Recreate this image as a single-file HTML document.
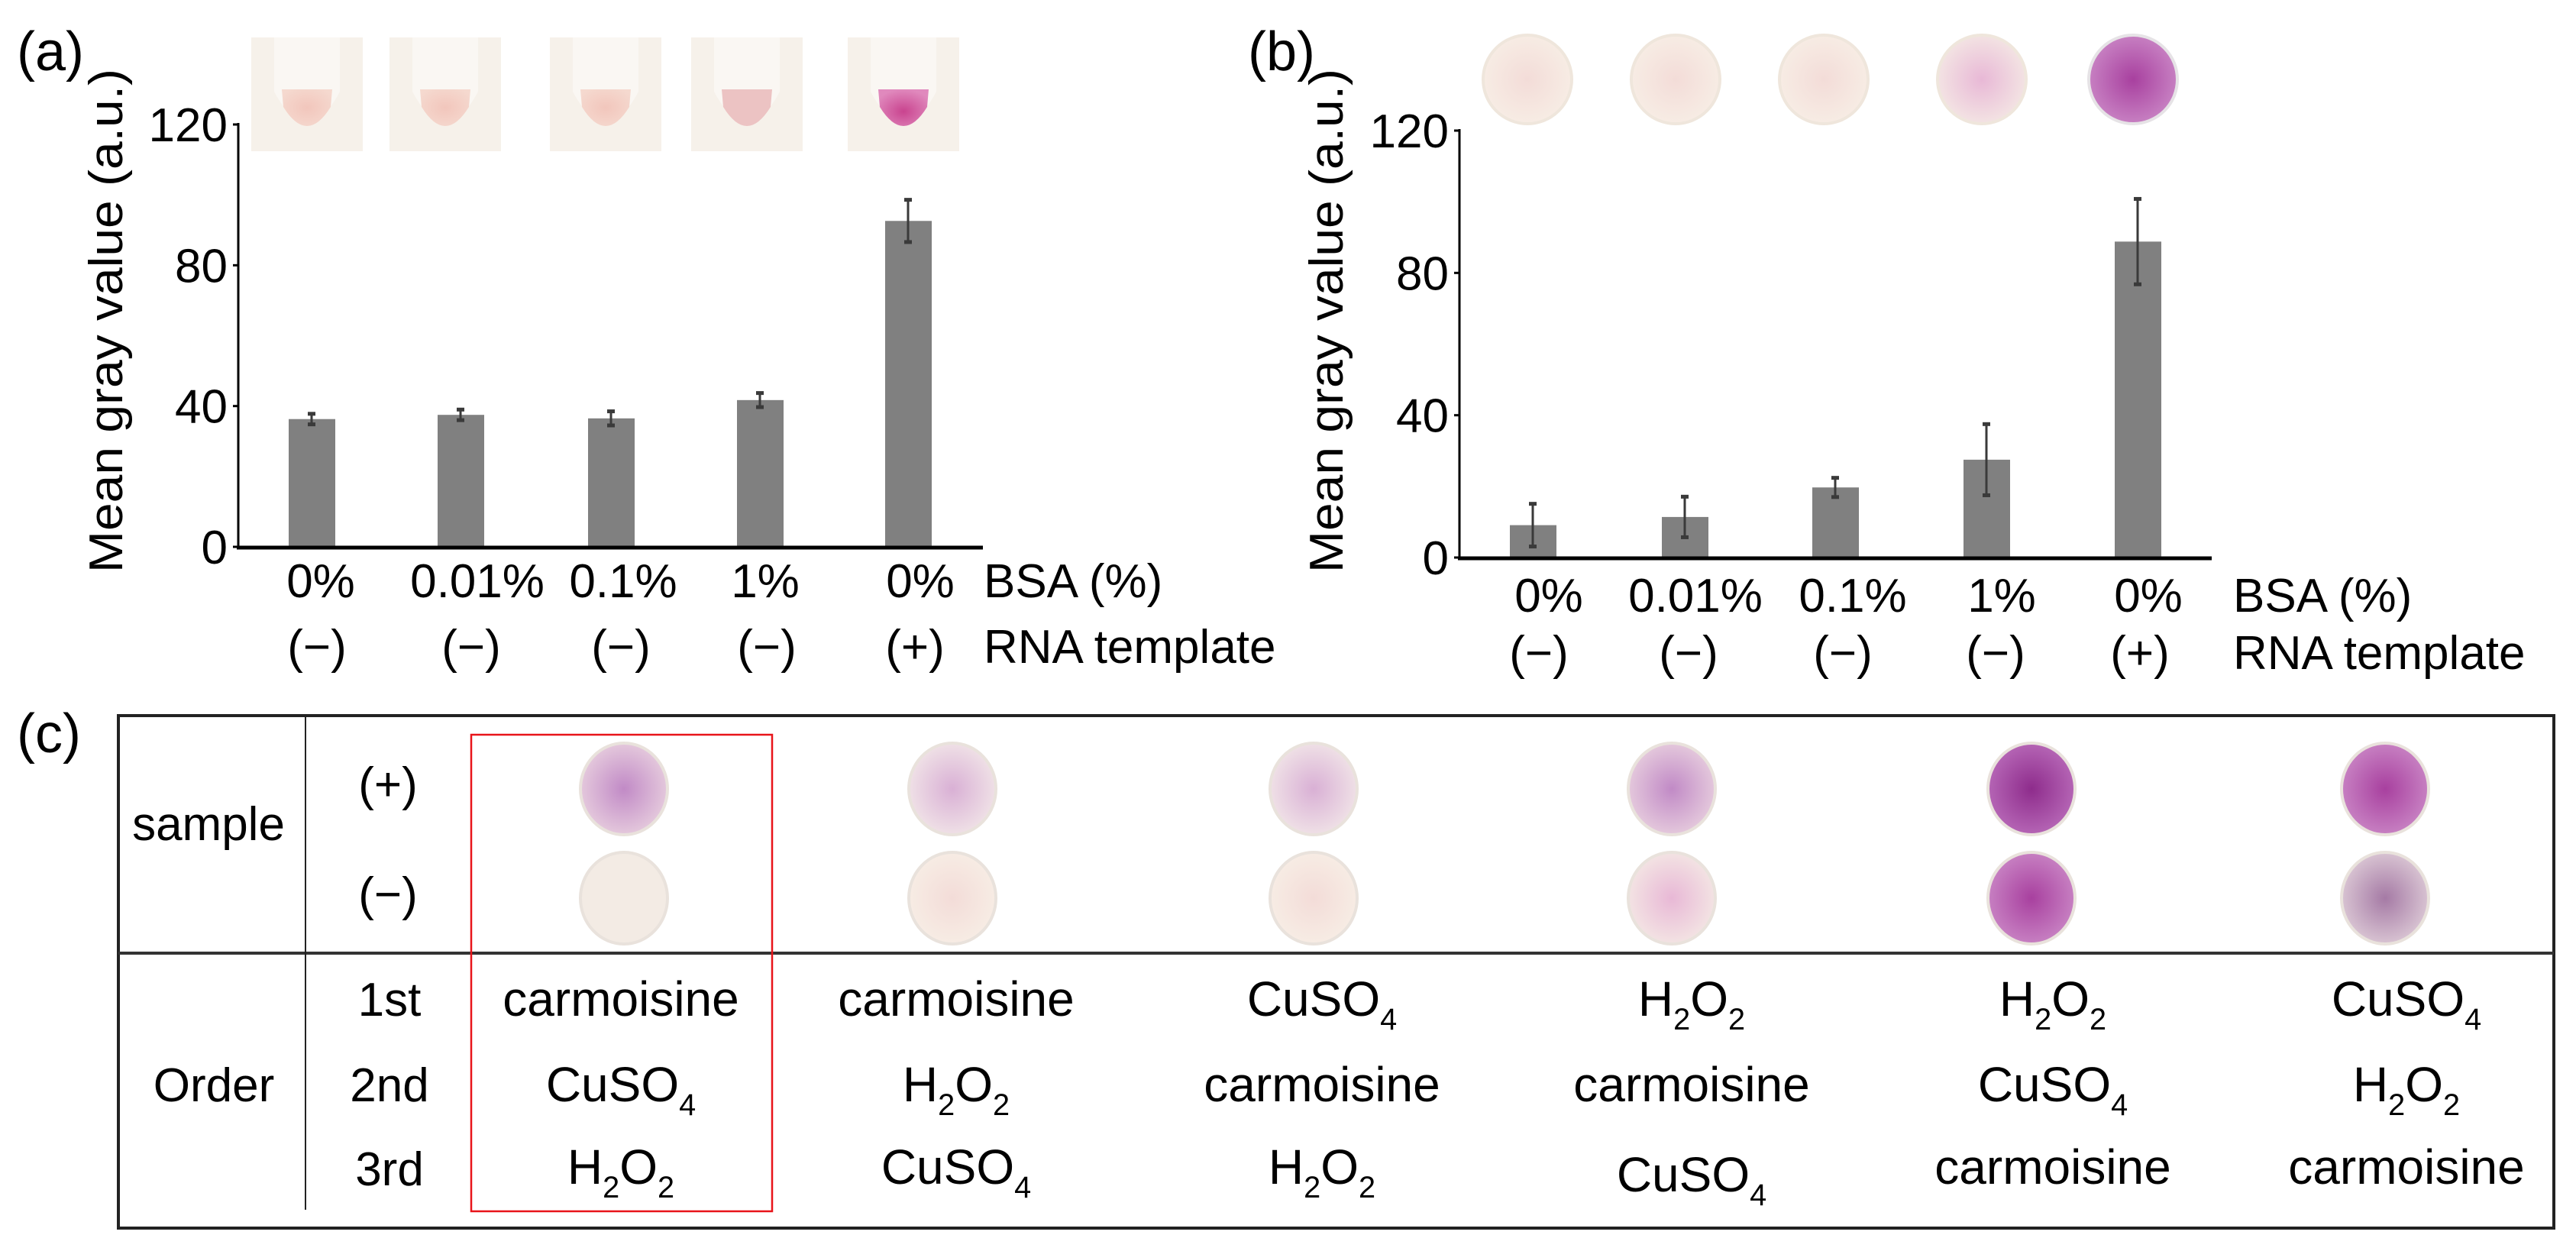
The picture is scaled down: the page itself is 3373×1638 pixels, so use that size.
<!DOCTYPE html>
<html><head><meta charset="utf-8"><style>
html,body{margin:0;padding:0;background:#fff;}
svg{display:block;font-family:"Liberation Sans",Arial,sans-serif;}
</style></head><body>
<svg id="fig" width="3373" height="1638" viewBox="0 0 3373 1638" xmlns="http://www.w3.org/2000/svg">
<defs>
<radialGradient id="liqLight" cx="0.5" cy="0.5" r="0.6"><stop offset="0" stop-color="#f2c6bc"/><stop offset="1" stop-color="#f5d9cf"/></radialGradient>
<radialGradient id="liqPink" cx="0.5" cy="0.6" r="0.6"><stop offset="0" stop-color="#c9448f"/><stop offset="1" stop-color="#e089bd"/></radialGradient>
<radialGradient id="diskPale" cx="0.5" cy="0.5" r="0.5"><stop offset="0" stop-color="#f3dcd8"/><stop offset="1" stop-color="#f7ece4"/></radialGradient>
<radialGradient id="diskPinkish" cx="0.5" cy="0.5" r="0.5"><stop offset="0" stop-color="#e8b8d6"/><stop offset="1" stop-color="#f3e3e3"/></radialGradient>
<radialGradient id="diskPurple" cx="0.5" cy="0.5" r="0.5"><stop offset="0" stop-color="#a8409f"/><stop offset="1" stop-color="#c780c2"/></radialGradient>
<radialGradient id="diskMid" cx="0.5" cy="0.5" r="0.5"><stop offset="0" stop-color="#c18ac6"/><stop offset="1" stop-color="#e4c8dc"/></radialGradient>
<radialGradient id="diskLightPurple" cx="0.5" cy="0.5" r="0.5"><stop offset="0" stop-color="#d9b0d5"/><stop offset="1" stop-color="#efe0e6"/></radialGradient>
<radialGradient id="diskDark" cx="0.5" cy="0.5" r="0.5"><stop offset="0" stop-color="#8e2c8c"/><stop offset="1" stop-color="#b565b5"/></radialGradient>
<radialGradient id="diskGrey" cx="0.5" cy="0.5" r="0.5"><stop offset="0" stop-color="#a57aa5"/><stop offset="1" stop-color="#d8c3d2"/></radialGradient>
</defs>
<g id="layer"></g>
</svg>
<script>
// ---- data ----
const categories = ["0%", "0.01%", "0.1%", "1%", "0%"];
const templates = ["(\u2212)", "(\u2212)", "(\u2212)", "(\u2212)", "(+)"];
const valuesA = [36.3, 37.5, 36.5, 41.7, 92.6];
const errorsA = [1.5, 1.5, 2.0, 2.0, 6.0];
const valuesB = [9.1, 11.4, 19.7, 27.5, 88.8];
const errorsB = [6.0, 5.7, 2.7, 10.0, 12.0];
const yTicks = [0, 40, 80, 120];
const orderFirst = ["carmoisine", "carmoisine", "CuSO4", "H2O2", "H2O2", "CuSO4"];
const orderSecond = ["CuSO4", "H2O2", "carmoisine", "carmoisine", "CuSO4", "H2O2"];
const orderThird = ["H2O2", "CuSO4", "H2O2", "CuSO4", "carmoisine", "carmoisine"];

const NS = "http://www.w3.org/2000/svg";
const layer = document.getElementById("layer");
function mk(tag, attrs, parent) {
  const e = document.createElementNS(NS, tag);
  for (const k in attrs) e.setAttribute(k, attrs[k]);
  (parent || layer).appendChild(e);
  return e;
}
function txt(str, x, y, size, anchor, parent) {
  const t = mk("text", {x: x, y: y, "font-size": size, "text-anchor": anchor || "middle", fill: "#000"}, parent);
  t.textContent = str;
  return t;
}
function chem(str, x, y, size, parent) {
  const t = mk("text", {x: x, y: y, "font-size": size, "text-anchor": "middle", fill: "#000"}, parent);
  let parts = str.match(/[A-Za-z]+|\d+/g);
  if (str === "carmoisine") parts = [str];
  parts.forEach(p => {
    const s = document.createElementNS(NS, "tspan");
    if (/^\d+$/.test(p)) { s.setAttribute("font-size", size * 0.62); s.setAttribute("dy", size * 0.28); }
    else { s.setAttribute("dy", t.childNodes.length && /^\d+$/.test(t.lastChild.textContent) ? -size * 0.28 : 0); }
    s.textContent = p;
    t.appendChild(s);
  });
  return t;
}

function drawChart(cfg) {
  const g = mk("g", {});
  
  
  const yScale = v => cfg.y0 - (v / 120) * (cfg.y0 - cfg.y120);
  cfg.values.forEach((v, i) => {
    const cx = cfg.centers[i];
    const b = mk("rect", {x: cx - 30, y: yScale(v), width: 61, height: cfg.y0 - yScale(v), fill: "#808080"}, g);
    
    
    const e = cfg.errors[i];
    const eg = mk("g", {stroke: "#3a3a3a", "stroke-width": 3}, g);
    
    
    mk("line", {x1: cx, x2: cx, y1: yScale(v + e), y2: yScale(v - e)}, eg);
    mk("line", {x1: cx - 5, x2: cx + 5, y1: yScale(v + e), y2: yScale(v + e), "stroke-width": 5}, eg);
    mk("line", {x1: cx - 5, x2: cx + 5, y1: yScale(v - e), y2: yScale(v - e), "stroke-width": 5}, eg);
  });
  const ya = mk("line", {x1: cfg.ax, x2: cfg.ax, y1: cfg.y120 - 2, y2: cfg.y0, stroke: "#000", "stroke-width": 3}, g);
  
  
  const xa = mk("line", {x1: cfg.ax - 2, x2: cfg.xEnd, y1: cfg.y0 + 1, y2: cfg.y0 + 1, stroke: "#000", "stroke-width": 5}, g);
  
  
  yTicks.forEach(t => {
    mk("line", {x1: cfg.ax - 7, x2: cfg.ax, y1: yScale(t), y2: yScale(t), stroke: "#000", "stroke-width": 3}, g);
    const l = txt(String(t), cfg.ax - 14, yScale(t) + 22, 62, "end", g);
    
    
  });
  const yt = txt("Mean gray value (a.u.)", 0, 0, 62, "middle", g);
  yt.setAttribute("textLength", "660");
  yt.setAttribute("lengthAdjust", "spacingAndGlyphs");
  yt.setAttribute("transform", `translate(${cfg.titleX},${cfg.titleY}) rotate(-90)`);
  
  
  categories.forEach((c, i) => {
    const l = txt(c, cfg.labX[i], cfg.row1, 62, "middle", g);
    
    
    const r = txt(templates[i], cfg.rnaX[i], cfg.row2, 62, "middle", g);
    
    
  });
  const bl = txt("BSA (%)", cfg.legX, cfg.row1, 62, "start", g);
  
  
  const rl = txt("RNA template", cfg.legX, cfg.row2, 62, "start", g);
  
  
}

drawChart({name: "chart-a", values: valuesA, errors: errorsA, ax: 312, xEnd: 1287, y0: 716, y120: 163,
  centers: [408, 603, 800, 995, 1189], titleX: 160, titleY: 420,
  labX: [420, 625, 816, 1002, 1205], rnaX: [415, 617, 813, 1004, 1198], legX: 1288, row1: 782, row2: 868});
drawChart({name: "chart-b", values: valuesB, errors: errorsB, ax: 1911, xEnd: 2896, y0: 730, y120: 171,
  centers: [2007, 2206, 2403, 2601, 2799], titleX: 1758, titleY: 420,
  labX: [2028, 2220, 2426, 2621, 2813], rnaX: [2015, 2211, 2413, 2613, 2802], legX: 2924, row1: 801, row2: 876});

[["(a)", 22, 92], ["(b)", 1634, 92], ["(c)", 22, 985]].forEach(p => {
  const t = txt(p[0], p[1], p[2], 72, "start");
  
  
});

const tubeX = [329, 510, 720, 905, 1110];
tubeX.forEach((x, i) => {
  const g = mk("g", {});
  
  
  mk("rect", {x: x, y: 49, width: 146, height: 149, fill: "#f6f1ea"}, g);
  mk("path", {d: `M${x+30} 49 L${x+30} 120 Q${x+73} 200 ${x+116} 120 L${x+116} 49 Z`, fill: "#faf7f3"}, g);
  mk("path", {d: `M${x+40} 117 L${x+106} 117 L${x+104} 140 Q${x+73} 190 ${x+42} 140 Z`, fill: i === 4 ? "url(#liqPink)" : (i === 3 ? "#ecc3c3" : "url(#liqLight)")}, g);
});
const diskBX = [2000, 2194, 2388, 2595, 2793];
const diskBFill = ["url(#diskPale)", "url(#diskPale)", "url(#diskPale)", "url(#diskPinkish)", "url(#diskPurple)"];
diskBX.forEach((x, i) => {
  const c = mk("ellipse", {cx: x, cy: 104, rx: 58, ry: 58, fill: diskBFill[i], stroke: i === 4 ? "#e6e3e6" : "#efe6dc", "stroke-width": 4});
  
  
});

const tg = mk("g", {});


mk("rect", {x: 155, y: 937, width: 3189, height: 671, fill: "none", stroke: "#222", "stroke-width": 4}, tg);
mk("line", {x1: 155, x2: 3344, y1: 1248, y2: 1248, stroke: "#333", "stroke-width": 4}, tg);
mk("line", {x1: 400, x2: 400, y1: 937, y2: 1584, stroke: "#222", "stroke-width": 2}, tg);
const hl = mk("rect", {x: 617, y: 962, width: 394, height: 624, fill: "none", stroke: "#e8141a", "stroke-width": 2.5}, tg);


[["sample", 273, 1100], ["(+)", 508, 1048], ["(\u2212)", 508, 1192], ["Order", 280, 1442], ["1st", 510, 1330], ["2nd", 510, 1442], ["3rd", 510, 1552]].forEach(r => {
  const t = txt(r[0], r[1], r[2], 62, "middle", tg);
  
  
});
const colX = [817, 1247, 1720, 2189, 2660, 3123];
const plusFill = ["url(#diskMid)", "url(#diskLightPurple)", "url(#diskLightPurple)", "url(#diskMid)", "url(#diskDark)", "url(#diskPurple)"];
const minusFill = ["#f3ebe4", "url(#diskPale)", "url(#diskPale)", "url(#diskPinkish)", "url(#diskPurple)", "url(#diskGrey)"];
colX.forEach((x, i) => {
  const p = mk("ellipse", {cx: x, cy: 1033, rx: 57, ry: 60, fill: plusFill[i], stroke: "#e9e2dc", "stroke-width": 4}, tg);
  
  
  const m = mk("ellipse", {cx: x, cy: 1176, rx: 57, ry: 60, fill: minusFill[i], stroke: "#e9e2dc", "stroke-width": 4}, tg);
  
  
});
const orderTextX = [813, 1252, 1731, 2215, 2688, 3151];
[[orderFirst, 1330], [orderSecond, 1442], [orderThird, 1550]].forEach(row => {
  row[0].forEach((s, i) => {
    const t = chem(s, orderTextX[i], row[1] + (i === 3 && row[1] === 1550 ? 10 : 0), 64, tg);
    
    
  });
});
</script>
</body></html>
